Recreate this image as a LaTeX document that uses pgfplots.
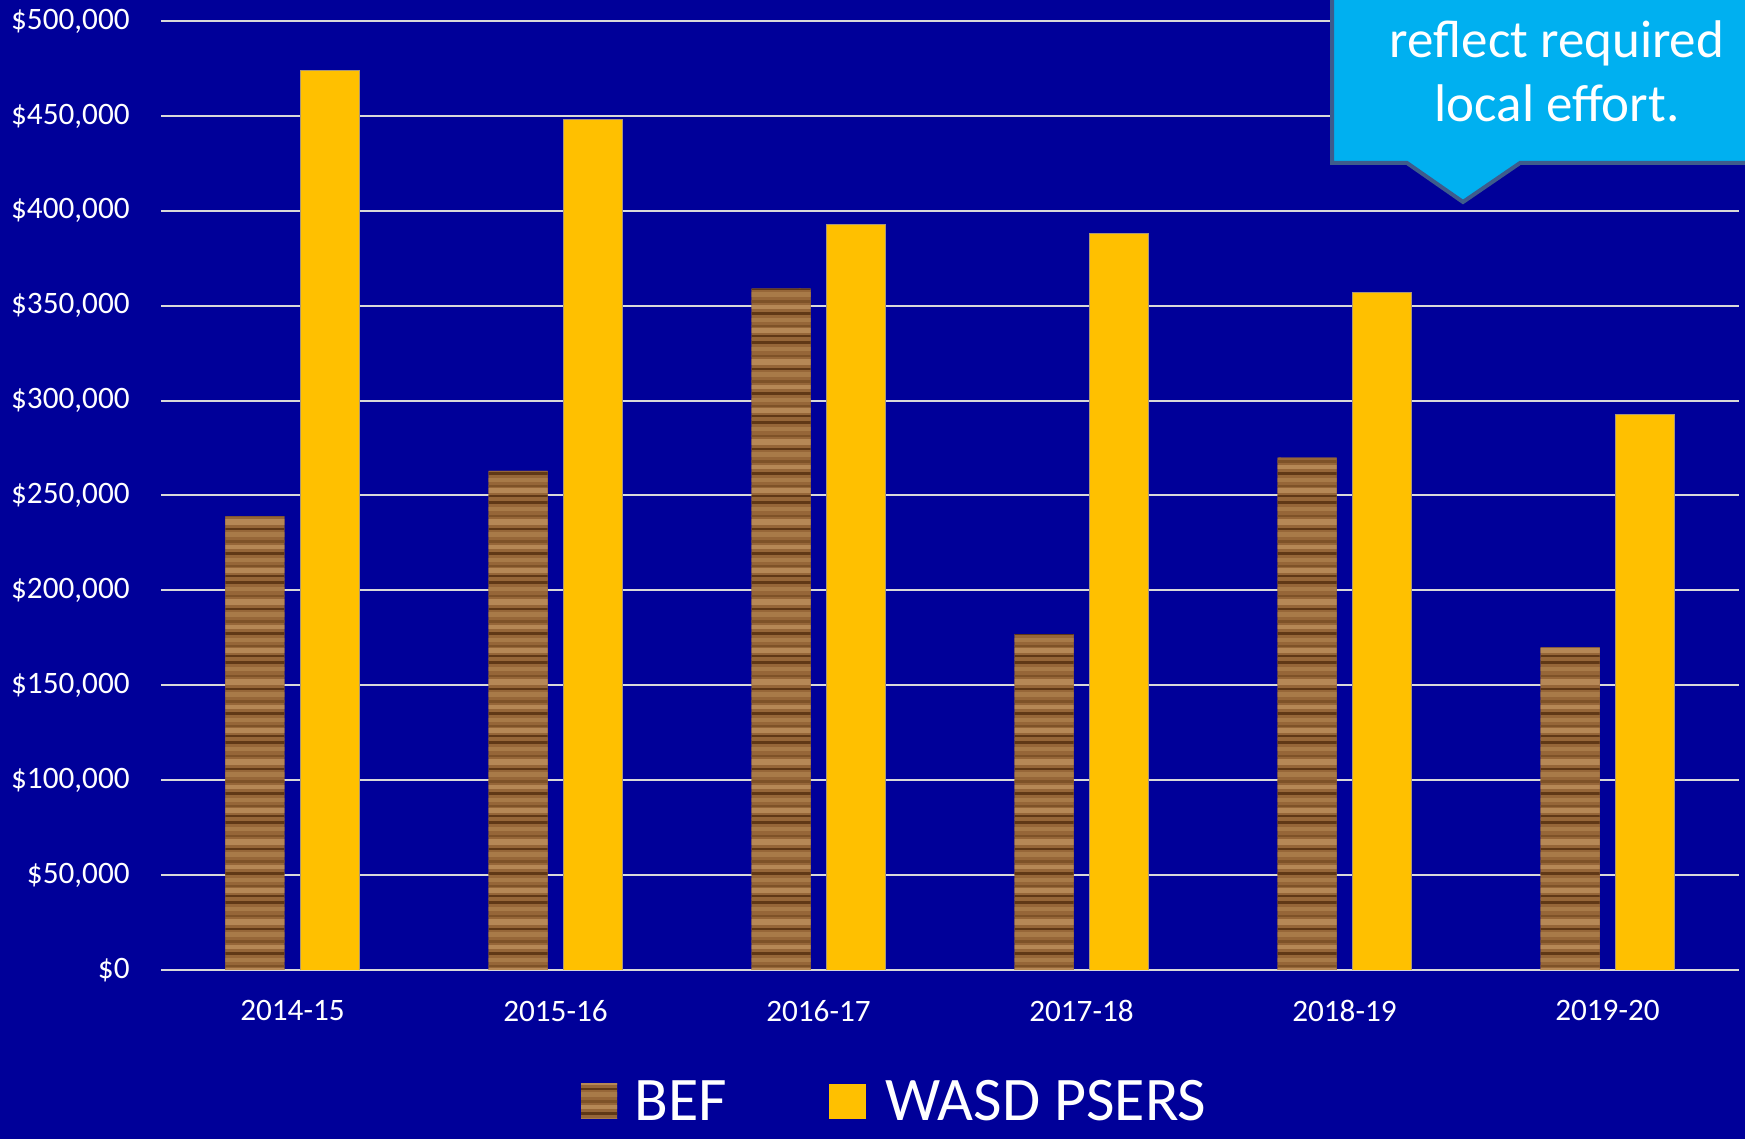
\documentclass[border=0pt]{standalone}
\usepackage{pgfplots}
\pgfplotsset{compat=1.18}
\usepackage{fontspec}
\setmainfont{Carlito}
\usetikzlibrary{patterns.meta}
\definecolor{bgblue}{RGB}{0,0,153}
\definecolor{gold}{RGB}{255,192,0}
\definecolor{callout}{RGB}{0,176,240}
\definecolor{calloutedge}{RGB}{62,92,140}
\definecolor{gridc}{RGB}{217,217,217}
\definecolor{woodbase}{RGB}{150,102,56}
\definecolor{woodlight}{RGB}{182,136,86}
\definecolor{woodtan}{RGB}{168,122,72}
\definecolor{woodmid}{RGB}{126,82,40}
\definecolor{wooddark}{RGB}{96,56,22}
\pgfdeclarepattern{
  name=wood, type=colored,
  bottom left={\pgfpoint{-0.5pt}{-0.5pt}},
  top right={\pgfpoint{40.5pt}{40.5pt}},
  tile size={\pgfpoint{40pt}{40pt}},
  code={
    \pgfsetfillcolor{woodbase}
    \pgfpathrectangle{\pgfpoint{-0.5pt}{-0.5pt}}{\pgfpoint{41pt}{41pt}}\pgfusepath{fill}
    \pgfsetfillcolor{woodlight}
    \pgfpathrectangle{\pgfpoint{-0.5pt}{3pt}}{\pgfpoint{41pt}{2.6pt}}\pgfusepath{fill}
    \pgfpathrectangle{\pgfpoint{-0.5pt}{15pt}}{\pgfpoint{41pt}{1.8pt}}\pgfusepath{fill}
    \pgfpathrectangle{\pgfpoint{-0.5pt}{27pt}}{\pgfpoint{41pt}{3.2pt}}\pgfusepath{fill}
    \pgfsetfillcolor{woodtan}
    \pgfpathrectangle{\pgfpoint{-0.5pt}{8.5pt}}{\pgfpoint{41pt}{2pt}}\pgfusepath{fill}
    \pgfpathrectangle{\pgfpoint{-0.5pt}{21pt}}{\pgfpoint{41pt}{2.4pt}}\pgfusepath{fill}
    \pgfpathrectangle{\pgfpoint{-0.5pt}{34pt}}{\pgfpoint{41pt}{1.8pt}}\pgfusepath{fill}
    \pgfsetfillcolor{woodmid}
    \pgfpathrectangle{\pgfpoint{-0.5pt}{6pt}}{\pgfpoint{41pt}{1.2pt}}\pgfusepath{fill}
    \pgfpathrectangle{\pgfpoint{-0.5pt}{18pt}}{\pgfpoint{41pt}{1.5pt}}\pgfusepath{fill}
    \pgfpathrectangle{\pgfpoint{-0.5pt}{31pt}}{\pgfpoint{41pt}{1pt}}\pgfusepath{fill}
    \pgfsetfillcolor{wooddark}
    \pgfpathrectangle{\pgfpoint{-0.5pt}{1pt}}{\pgfpoint{41pt}{1.1pt}}\pgfusepath{fill}
    \pgfpathrectangle{\pgfpoint{-0.5pt}{12pt}}{\pgfpoint{41pt}{1.4pt}}\pgfusepath{fill}
    \pgfpathrectangle{\pgfpoint{-0.5pt}{24.5pt}}{\pgfpoint{41pt}{0.8pt}}\pgfusepath{fill}
    \pgfpathrectangle{\pgfpoint{-0.5pt}{37.5pt}}{\pgfpoint{41pt}{1.3pt}}\pgfusepath{fill}
  }
}
\begin{document}
\begin{tikzpicture}
\useasboundingbox (0,0) rectangle (872.5pt,569.5pt);
\fill[bgblue] (0,0) rectangle (872.5pt,569.5pt);
\begin{axis}[
  at={(80.5pt,84.5pt)}, anchor=south west,
  scale only axis, width=789pt, height=474.5pt,
  ymin=0, ymax=500000, xmin=-0.5, xmax=5.5,
  ybar=8pt, bar width=29.5pt,
  axis line style={draw=none},
  major tick length=0pt,
  ymajorgrids, grid style={gridc, line width=1pt},
  scaled y ticks=false,
  ytick={0,50000,100000,150000,200000,250000,300000,350000,400000,450000,500000},
  yticklabels={{\$0},{\$50,000},{\$100,000},{\$150,000},{\$200,000},{\$250,000},{\$300,000},{\$350,000},{\$400,000},{\$450,000},{\$500,000}},
  xtick={0,1,2,3,4,5},
  xticklabels={2014-15,2015-16,2016-17,2017-18,2018-19,2019-20},
  tick label style={white, font=\fontsize{15.6}{18}\selectfont},
  yticklabel style={anchor=east, inner sep=0pt, xshift=-15.5pt},
  xticklabel style={anchor=north, inner sep=0pt, yshift=-15pt},
]
\addplot[draw=none, fill=woodbase, postaction={pattern=wood}] coordinates {(0,239000) (1,263000) (2,359000) (3,177000) (4,270000) (5,170000)};
\addplot[fill=gold, draw={rgb,255:red,170;green,150;blue,120}, line width=0.4pt] coordinates {(0,474000) (1,448000) (2,393000) (3,388000) (4,357000) (5,292500)};
\end{axis}
\begin{scope}
\clip (0,0) rectangle (872.5pt,569.5pt);
\filldraw[fill=callout, draw=calloutedge, line width=2pt, line join=miter] (666pt,590pt) -- (666pt,488pt) -- (703.5pt,488pt) -- (731.5pt,468.5pt) -- (760pt,488pt) -- (885pt,488pt) -- (885pt,590pt) -- cycle;
\node[white, font=\fontsize{26.5}{32}\selectfont, anchor=base, inner sep=0pt] at (778.5pt,540.5pt) {reflect required};
\node[white, font=\fontsize{26.5}{32}\selectfont, anchor=base, inner sep=0pt] at (778.5pt,508.5pt) {local effort.};
\end{scope}
\fill[woodbase] (290.5pt,10pt) rectangle (308.5pt,27.5pt);
\fill[pattern=wood] (290.5pt,10pt) rectangle (308.5pt,27.5pt);
\node[anchor=base west, inner sep=0pt, white, font=\fontsize{31}{36}\selectfont] at (317pt,9pt) {BEF};
\fill[gold] (414.5pt,10pt) rectangle (433pt,27.5pt);
\node[anchor=base west, inner sep=0pt, white, font=\fontsize{31}{36}\selectfont] at (442.5pt,9pt) {WASD PSERS};
\end{tikzpicture}
\end{document}
